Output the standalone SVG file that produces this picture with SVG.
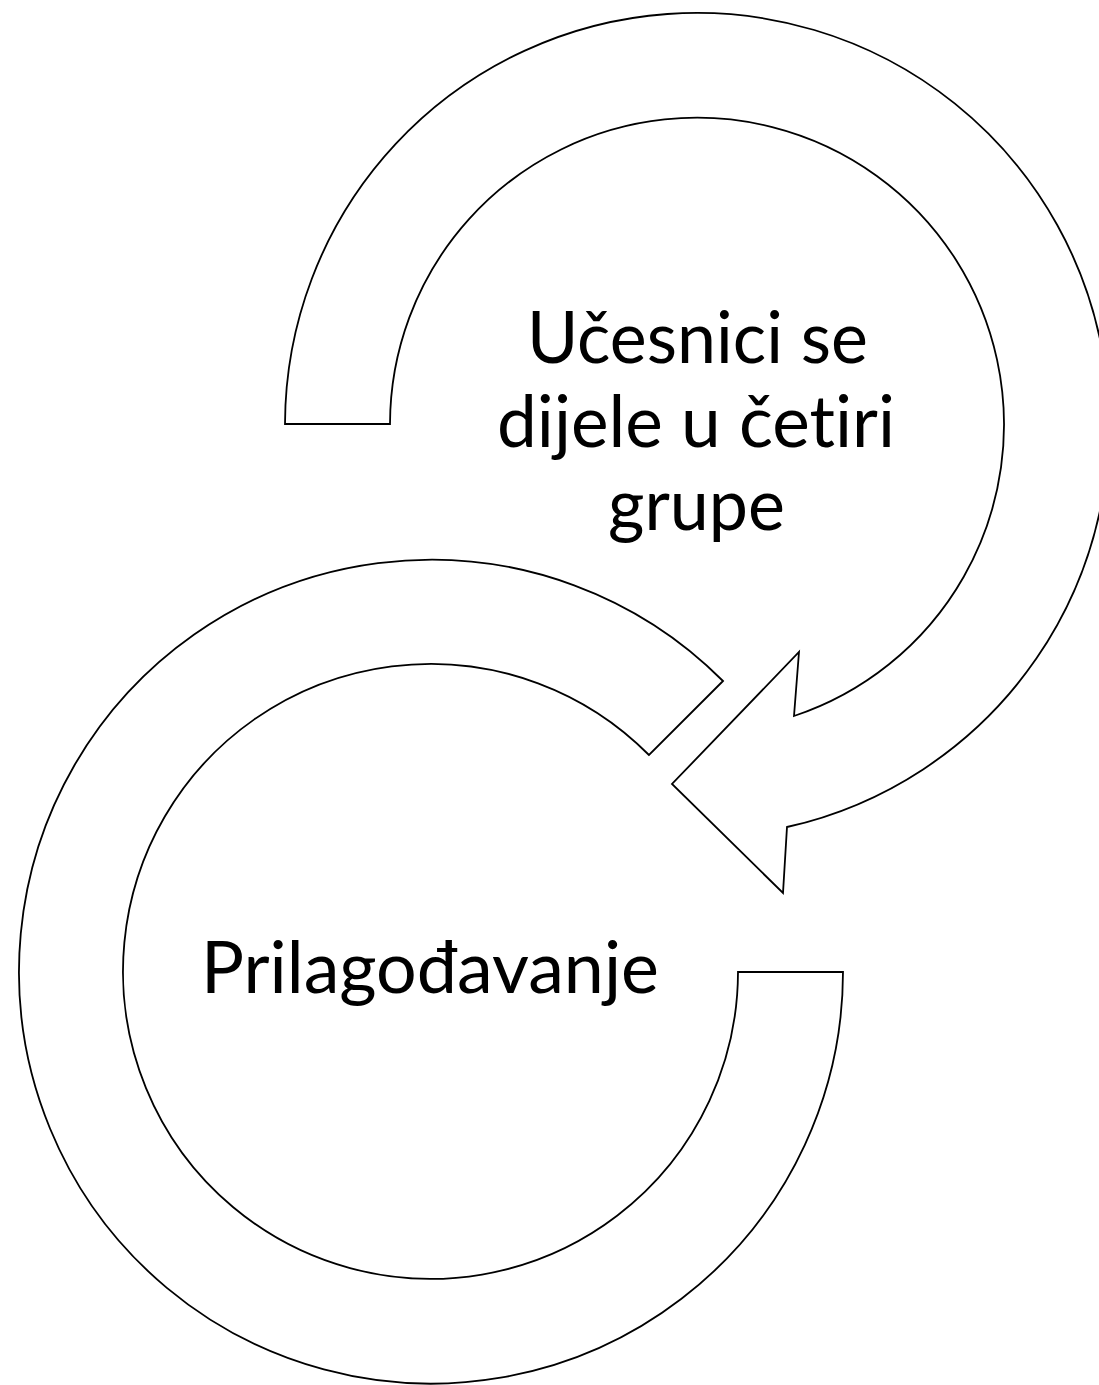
<svg xmlns="http://www.w3.org/2000/svg" width="1099" height="1385" viewBox="0 0 1099 1385">
<style>
.shape{fill:#ffffff;stroke:#000000;stroke-width:1.8;stroke-linejoin:miter}
.label{font-family:"Lato","Open Sans","Liberation Sans",sans-serif;font-size:71px;fill:#000000;text-anchor:middle;font-variant-ligatures:none;font-feature-settings:"liga" 0,"clig" 0}
</style>
<rect width="1099" height="1385" fill="#ffffff"/>
<g id="node-bottom">
<path class="shape" d="M 723,681 L 649,755 A 307.5 307.5 0 1 0 738,972 L 843,972 A 412 412 0 1 1 723,681 Z"/>
<text class="label" x="430" y="993" textLength="458" lengthAdjust="spacingAndGlyphs">Prilagođavanje</text>
</g>
<g id="node-top">
<path class="shape" d="M 285,424 A 412 412 0 1 1 787,827 L 783,893 L 672,784 L 799,652 L 794,716 A 307 307 0 1 0 390,424 Z"/>
<text class="label" x="697.5" y="363" textLength="341" lengthAdjust="spacingAndGlyphs">Učesnici se</text>
<text class="label" x="696" y="447" textLength="398" lengthAdjust="spacingAndGlyphs">dijele u četiri</text>
<text class="label" x="696.5" y="530" textLength="177" lengthAdjust="spacingAndGlyphs">grupe</text>
</g>
<g id="connectors"></g>
</svg>
